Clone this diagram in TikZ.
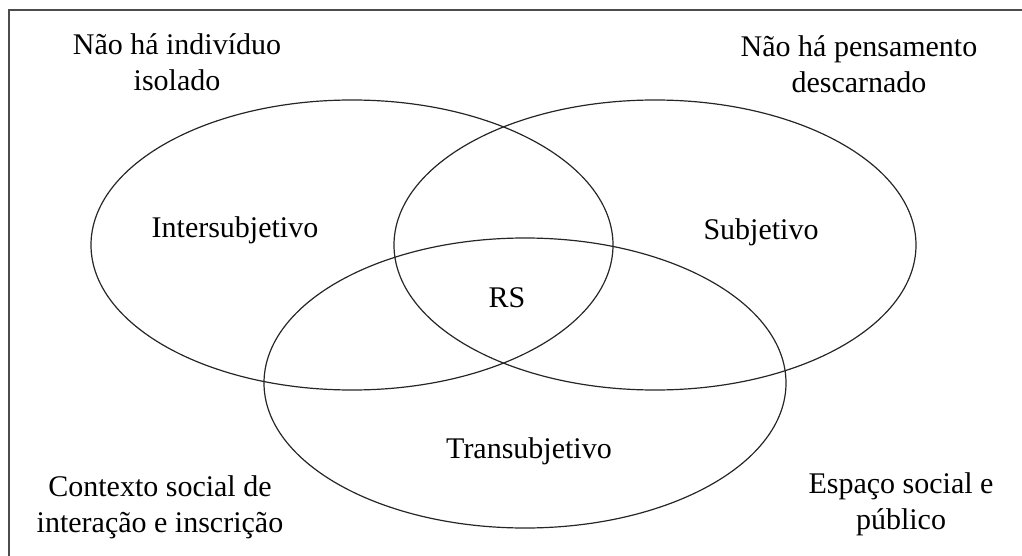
\documentclass[tikz,border=0pt]{standalone}
\usepackage{fontspec}
\setmainfont{Liberation Serif}
\usetikzlibrary{shapes.geometric,positioning}

\begin{document}
\begin{tikzpicture}[
x=1pt,y=-1pt,
circ/.style={
  draw=black!85,
  ellipse,
  line width=1.2pt,
  minimum width=522pt,
  minimum height=290pt
},
lbl/.style={
  align=center,
  font=\fontsize{30}{36}\selectfont,
  inner sep=0pt
}
]
\useasboundingbox (0,0) rectangle (1022,556);
\clip (0,0) rectangle (1022,556);
\draw[black!70,line width=2pt] (9,10) rectangle (1060,600);

% the three spheres
\node[circ] (inter) at (352,245) {};
\node[circ] (subj) at (655,245) {};
\node[circ] (trans) at (525,383) {};

\node[lbl] (tinter) at (235,230) {Intersubjetivo};
\node[lbl] (tsubj) at (761,232) {Subjetivo};
\node[lbl] (trs) at (507,298) {RS};
\node[lbl] (ttrans) at (529,451) {Transubjetivo};

% corner texts
\node[lbl] (isol) at (177,62) {Não há indivíduo\\isolado};
\node[lbl] (desc) at (859,64) {Não há pensamento\\descarnado};
\node[lbl] (ctx) at (160,507) {Contexto social de\\interação e inscrição};
\node[lbl] (esp) at (901,504) {Espaço social e\\público};
\end{tikzpicture}
\end{document}
